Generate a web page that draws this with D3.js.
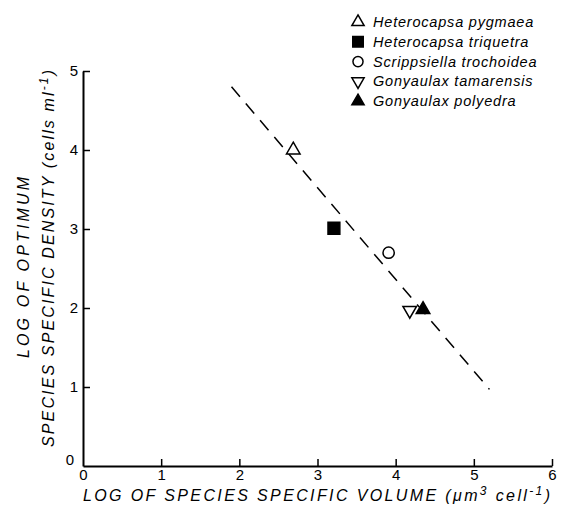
<!DOCTYPE html>
<html>
<head>
<meta charset="utf-8">
<script src="https://cdn.jsdelivr.net/npm/d3@7"></script>
<style>
  body { margin: 0; background: #fff; }
  text { font-family: "Liberation Sans", Arial, sans-serif; fill: #000; }
</style>
</head>
<body>
<div id="chart"></div>
<script>
var width = 561,
  height = 508;

// data
var species = [
  "Heterocapsa pygmaea",
  "Heterocapsa triquetra",
  "Scrippsiella trochoidea",
  "Gonyaulax tamarensis",
  "Gonyaulax polyedra"
];
var logVolume = [2.69, 3.21, 3.91, 4.18, 4.35];
var logDensity = [4.0, 3.01, 2.7, 1.97, 1.98];
var fitX = [1.9, 5.2];
var fitY = [4.8, 0.97];
var xTicks = [0, 1, 2, 3, 4, 5, 6];
var yTicks = [0, 1, 2, 3, 4, 5];

// marker style per species
var shapes = ["triangle", "square", "circle", "triangleDown", "triangle"];
var filled = [false, true, false, false, true];

var svg = d3
  .select("#chart")
  .append("svg")
  .attr("width", width)
  .attr("height", height);

var x = d3.scaleLinear().domain([0, 6]).range([83, 552]);
var y = d3.scaleLinear().domain([0, 5]).range([466, 71]);

function symbolPath(shape, size) {
  var type = d3.symbolTriangle;
  if (shape == "square") type = d3.symbolSquare;
  if (shape == "circle") type = d3.symbolCircle;
  return d3.symbol().type(type).size(size)();
}

// axes
var xAxis = svg
  .append("g")
  .attr("transform", "translate(0," + y(0) + ")")
  .call(d3.axisBottom(x).tickValues(xTicks).tickFormat(d3.format("d"))
    .tickSizeInner(-7).tickSizeOuter(0).tickPadding(3));

var yAxis = svg
  .append("g")
  .attr("transform", "translate(" + x(0) + ",0)")
  .call(d3.axisLeft(y).tickValues(yTicks).tickFormat(d3.format("d"))
    .tickSizeInner(-7).tickSizeOuter(0).tickPadding(5));

[xAxis, yAxis].forEach(function(g) {
  g.select(".domain").attr("stroke-width", 2);
  g.selectAll(".tick line").attr("stroke-width", 1.5);
  g.selectAll(".tick text")
    .style("font-size", "15px")
    .style("font-family", "'Liberation Sans', Arial, sans-serif");
});
xAxis.selectAll(".tick").filter(d => d == 0).select("line").remove();
yAxis.selectAll(".tick").filter(d => d == 0).select("line").remove();
yAxis.selectAll(".tick").filter(d => d == 0).select("text").attr("dx", -4).attr("dy", "-0.1em");

// fitted line
var fit = d3.line().x(d => x(d[0])).y(d => y(d[1]));
svg
  .append("path")
  .attr("d", fit(d3.zip(fitX, fitY)))
  .attr("fill", "none")
  .attr("stroke", "#000")
  .attr("stroke-width", 1.5)
  .attr("stroke-dasharray", "13,9");

// points
svg
  .selectAll(".pt")
  .data(species)
  .enter()
  .append("path")
  .attr("class", "pt")
  .attr("d", (d, i) => symbolPath(shapes[i], shapes[i] == "square" ? 140 : shapes[i] == "circle" ? 100 : 80))
  .attr("transform", (d, i) =>
    "translate(" + x(logVolume[i]) + "," + y(logDensity[i]) + ")" +
    (shapes[i] == "triangleDown" ? " rotate(180)" : "")
  )
  .attr("fill", (d, i) => (filled[i] ? "#000" : "#fff"))
  .attr("stroke", "#000")
  .attr("stroke-width", 1.5);

// legend
var legend = svg
  .selectAll(".legend")
  .data(species)
  .enter()
  .append("g")
  .attr("class", "legend")
  .attr("transform", (d, i) => "translate(358," + (22 + i * 19.8) + ")");

legend
  .append("path")
  .attr("d", (d, i) => symbolPath(shapes[i], shapes[i] == "square" ? 110 : shapes[i] == "circle" ? 80 : 65))
  .attr("transform", (d, i) => (shapes[i] == "triangleDown" ? "rotate(180)" : null))
  .attr("fill", (d, i) => (filled[i] ? "#000" : "#fff"))
  .attr("stroke", "#000")
  .attr("stroke-width", 1.5);

legend
  .append("text")
  .attr("x", 15)
  .attr("y", 5)
  .style("font-size", "14.5px")
  .style("font-style", "italic")
  .style("letter-spacing", "0.8px")
  .text(d => d);

// axis titles
var xTitle = svg
  .append("text")
  .attr("x", 83)
  .attr("y", 501)
  .style("font-size", "16px")
  .style("font-style", "italic")
  .attr("textLength", 467)
  .attr("lengthAdjust", "spacing");
xTitle.append("tspan").text("LOG OF SPECIES SPECIFIC VOLUME  (\u03bcm");
xTitle.append("tspan").attr("dy", -6).style("font-size", "12px").text("3");
xTitle.append("tspan").attr("dy", 6).text(" cell");
xTitle.append("tspan").attr("dy", -6).style("font-size", "12px").text("-1");
xTitle.append("tspan").attr("dy", 6).text(")");

svg
  .append("text")
  .attr("transform", "translate(29,358) rotate(-90)")
  .style("font-size", "16px")
  .style("font-style", "italic")
  .attr("textLength", 181)
  .attr("lengthAdjust", "spacing")
  .text("LOG OF OPTIMUM");

var yTitle = svg
  .append("text")
  .attr("transform", "translate(54,447) rotate(-90)")
  .style("font-size", "16px")
  .style("font-style", "italic")
  .attr("textLength", 377)
  .attr("lengthAdjust", "spacing");
yTitle.append("tspan").text("SPECIES SPECIFIC DENSITY  (cells ml");
yTitle.append("tspan").attr("dy", -6).style("font-size", "12px").text("-1");
yTitle.append("tspan").attr("dy", 6).text(")");
</script>
</body>
</html>
